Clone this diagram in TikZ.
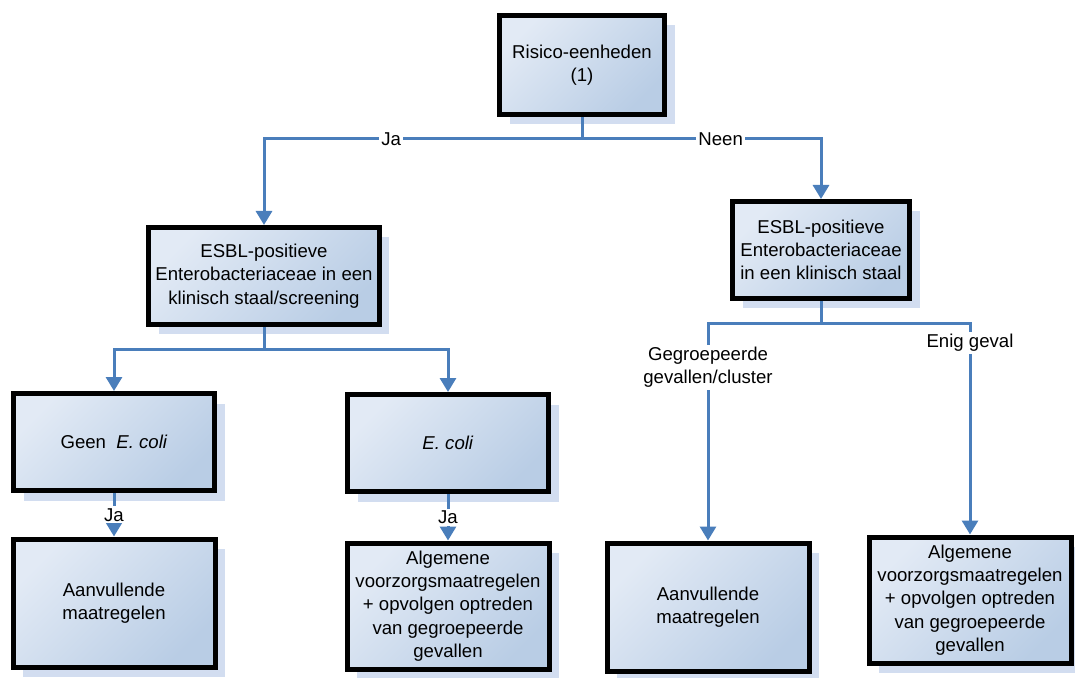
\documentclass[tikz,border=0pt]{standalone}
\usepackage{fontspec}
\setmainfont{Liberation Sans}
\usetikzlibrary{arrows.meta,positioning,calc,shadows}
\definecolor{arrblue}{RGB}{74,126,187}
\definecolor{boxlight}{RGB}{226,234,245}
\definecolor{boxdark}{RGB}{185,205,229}
\definecolor{shadowblue}{RGB}{210,221,240}

\begin{document}
\begin{tikzpicture}[
  x=0.5pt, y=-0.5pt,
  every node/.style={font=\fontsize{9.3}{11.6}\selectfont},
  arr/.style={-{Triangle[length=7pt,width=8pt]},arrblue,line width=1.5pt},
  line/.style={arrblue,line width=1.5pt},
  lbl/.style={fill=white,text=black,inner sep=1pt,align=center},
  box/.style={draw=black,line width=2.5pt,align=center,minimum height=48.5pt,
    top color=boxlight,bottom color=boxdark,shading angle=45,
    drop shadow={shadow xshift=5pt,shadow yshift=-5pt,opacity=1,fill=shadowblue}},
  tallbox/.style={box,minimum width=101pt,minimum height=63pt}
]
  \useasboundingbox (0,0) rectangle (1075,678);

  \node[box,minimum width=82.5pt,minimum height=49.5pt] (risk) at (582,65) {Risico-eenheden\\(1)};
  \node[box,minimum width=115pt] (esblL) at (264,276) {ESBL-positieve\\Enterobacteriaceae in een\\klinisch staal/screening};
  \node[box,minimum width=88.5pt] (esblR) at (821,250) {ESBL-positieve\\Enterobacteriaceae\\in een klinisch staal};
  \node[box,minimum width=100.5pt] (geen)  at (114,442) {Geen~ \textit{E. coli}};
  \node[box,minimum width=100.5pt] (ecoli) at (448,443) {\textit{E. coli}};
  \node[tallbox,minimum height=64pt] (aanvL) at (114,603) {Aanvullende\\maatregelen};
  \node[tallbox] (algM)  at (448,606) {Algemene\\voorzorgsmaatregelen\\+ opvolgen optreden\\van gegroepeerde\\gevallen};
  \node[tallbox,minimum height=64pt] (aanvR) at (708,607) {Aanvullende\\maatregelen};
  \node[tallbox] (algR)  at (970,600) {Algemene\\voorzorgsmaatregelen\\+ opvolgen optreden\\van gegroepeerde\\gevallen};

  \coordinate (splitA) at (582,139);
  \coordinate (splitB) at (264,350);
  \coordinate (splitC) at (821,324);

  \draw[line] (risk.south) -- (splitA);
  \draw[arr] (splitA) -| node[lbl,pos=0.3]{Ja} (esblL.north);
  \draw[arr] (splitA) -| node[lbl,pos=0.29]{Neen} (esblR.north);

  \draw[line] (esblL.south) -- (splitB);
  \draw[arr] (splitB) -| (geen.north);
  \draw[arr] (splitB) -| (ecoli.north);

  \draw[line] (esblR.south) -- (splitC);
  \draw[arr] (splitC) -| node[lbl,pos=0.6]{Gegroepeerde\\gevallen/cluster} (aanvR.north);
  \draw[arr] (splitC) -| node[lbl,pos=0.545]{Enig geval} (algR.north);

  \draw[arr] (geen.south) -- node[lbl]{Ja} (aanvL.north);
  \draw[arr] (ecoli.south) -- node[lbl]{Ja} (algM.north);
\end{tikzpicture}
\end{document}
